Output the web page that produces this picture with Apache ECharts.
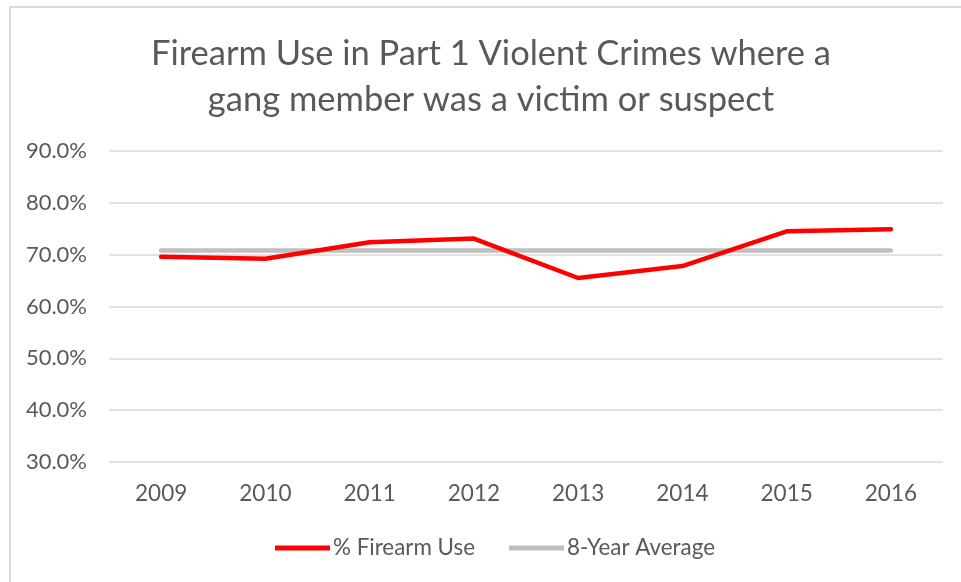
<!DOCTYPE html>
<html>
<head>
<meta charset="utf-8">
<script src="https://cdn.jsdelivr.net/npm/echarts@6/dist/echarts.min.js"></script>
<style>
  html, body { margin: 0; padding: 0; background: #fff; }
  #frame {
    position: absolute; left: 9px; top: 6px; width: 960px; height: 580px;
    border-top: 2px solid #d9d9d9; border-left: 2px solid #d9d9d9;
  }
  #chart { position: absolute; left: 0; top: 0; width: 961px; height: 582px; }
</style>
</head>
<body>
<div id="frame"></div>
<div id="chart"></div>
<script>
  // values (percent)
  var years = ['2009', '2010', '2011', '2012', '2013', '2014', '2015', '2016'];
  var firearmUse = [69.6, 69.2, 72.4, 73.1, 65.5, 67.8, 74.5, 74.9];
  var eightYearAvg = [70.8, 70.8, 70.8, 70.8, 70.8, 70.8, 70.8, 70.8];
  var yTicks = { min: 30, max: 90, step: 10 };

  var font = "Lato, 'Open Sans', sans-serif";
  var textColor = '#595959';

  var myChart = echarts.init(document.getElementById('chart'));
  var option = {
    animation: false,
    title: {
      text: 'Firearm Use in Part 1 Violent Crimes where a\ngang member was a victim or suspect',
      left: 486,
      textAlign: 'center',
      top: 26,
      textStyle: {
        fontFamily: font,
        fontSize: 34.5,
        fontWeight: 'normal',
        color: textColor,
        lineHeight: 46
      }
    },
    grid: {
      left: 109,
      right: 18,
      top: 151,
      bottom: 582 - 462
    },
    legend: {
      top: 532,
      left: 270,
      itemWidth: 55,
      itemHeight: 5,
      itemGap: 34,
      icon: 'rect',
      textStyle: { fontFamily: font, fontSize: 22.4, color: textColor, padding: [0, 0, 0, -2] },
      data: ['% Firearm Use', '8-Year Average']
    },
    xAxis: {
      type: 'category',
      data: years,
      boundaryGap: true,
      axisLine: { show: false },
      axisTick: { show: false },
      axisLabel: { fontFamily: font, fontSize: 22.5, color: textColor, margin: 20 }
    },
    yAxis: {
      type: 'value',
      min: yTicks.min,
      max: yTicks.max,
      interval: yTicks.step,
      axisLine: { show: false },
      axisTick: { show: false },
      splitLine: { lineStyle: { color: '#d9d9d9', width: 1.5 } },
      axisLabel: {
        fontFamily: font, fontSize: 22, color: textColor, margin: 22,
        formatter: function (v) { return v.toFixed(1) + '%'; }
      }
    },
    series: [
      {
        name: '% Firearm Use',
        type: 'line',
        data: firearmUse,
        symbol: 'none',
        z: 3,
        itemStyle: { color: '#ff0000' },
        lineStyle: { color: '#ff0000', width: 4.5, cap: 'round' }
      },
      {
        name: '8-Year Average',
        type: 'line',
        data: eightYearAvg,
        symbol: 'none',
        z: 2,
        itemStyle: { color: '#bfbfbf' },
        lineStyle: { color: '#bfbfbf', width: 4.5, cap: 'round' }
      }
    ]
  };
  myChart.setOption(option);
</script>
</body>
</html>
